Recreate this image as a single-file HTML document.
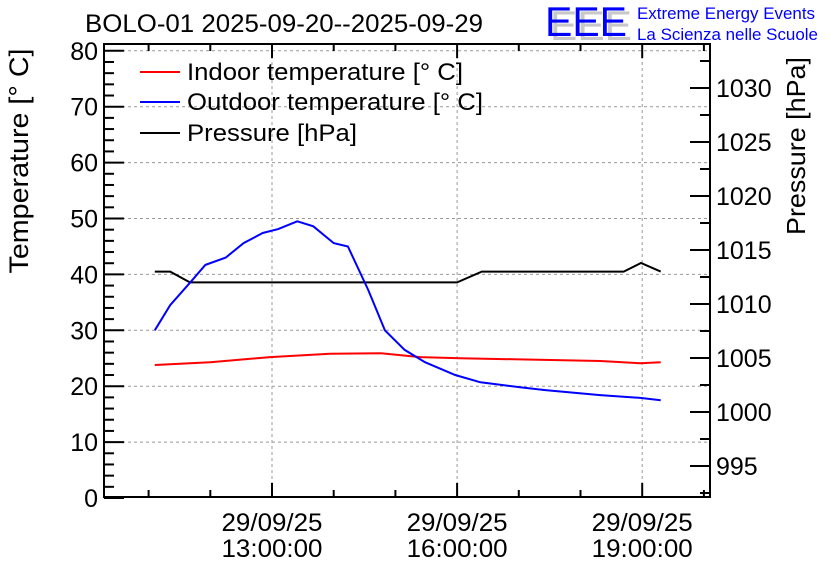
<!DOCTYPE html>
<html><head><meta charset="utf-8"><style>
body{margin:0;background:#fff}
svg{display:block;font-family:"Liberation Sans",sans-serif}
</style></head><body>
<svg id="chart" width="836" height="572" viewBox="0 0 836 572">
<text x="85" y="32" font-size="25" textLength="398" lengthAdjust="spacingAndGlyphs">BOLO-01 2025-09-20--2025-09-29</text>
<g>
<text x="550" y="40" font-size="42" fill="#c8c8c8" textLength="82" lengthAdjust="spacingAndGlyphs">EEE</text>
<text x="545" y="36" font-size="42" fill="#0000ff" textLength="82" lengthAdjust="spacingAndGlyphs">EEE</text>
<text x="637" y="19" font-size="17" fill="#0000ff" textLength="178" lengthAdjust="spacingAndGlyphs">Extreme Energy Events</text>
<text x="637" y="40" font-size="17" fill="#0000ff" textLength="181" lengthAdjust="spacingAndGlyphs">La Scienza nelle Scuole</text>
</g>
<g id="grid"></g>
<rect x="104" y="44" width="606" height="453" fill="none" stroke="#000" stroke-width="2"/>
<g id="axes"></g>
<g id="series"></g>
<text transform="translate(28,161) rotate(-90)" text-anchor="middle" font-size="27" textLength="225" lengthAdjust="spacingAndGlyphs">Temperature [° C]</text>
<text transform="translate(805,146) rotate(-90)" text-anchor="middle" font-size="26" textLength="178" lengthAdjust="spacingAndGlyphs">Pressure [hPa]</text>
<g>
<line x1="140" y1="72" x2="180" y2="72" stroke="#f00" stroke-width="2"/>
<text x="187" y="80" font-size="24" textLength="276" lengthAdjust="spacingAndGlyphs">Indoor temperature [° C]</text>
<line x1="140" y1="102" x2="180" y2="102" stroke="#00f" stroke-width="2"/>
<text x="187" y="110" font-size="24" textLength="296" lengthAdjust="spacingAndGlyphs">Outdoor temperature [° C]</text>
<line x1="140" y1="133" x2="180" y2="133" stroke="#000" stroke-width="2"/>
<text x="187" y="141" font-size="24" textLength="170" lengthAdjust="spacingAndGlyphs">Pressure [hPa]</text>
</g>
</svg>
<script>
const outdoorTimes=[11.1,11.35,11.67,11.92,12.25,12.54,12.85,13.1,13.41,13.67,14.0,14.23,14.56,14.83,15.15,15.48,15.97,16.38,17.02,17.43,18.32,18.97,19.3];
const outdoorTemp=[30,34.5,38.5,41.7,43,45.6,47.4,48.1,49.5,48.6,45.6,45,37.2,30,26.5,24.3,22,20.7,19.8,19.3,18.4,17.9,17.5];
const indoorTimes=[11.1,12.0,12.97,13.94,14.75,15.4,16.05,17.02,18.32,18.97,19.3];
const indoorTemp=[23.8,24.3,25.2,25.8,25.9,25.2,25,24.8,24.5,24.1,24.3];
const pressTimes=[11.1,11.35,11.67,16.0,16.4,18.7,18.98,19.3];
const pressVals=[1013,1013,1012,1012,1013,1013,1013.8,1013];
const xMajor=[13,16,19];
const xMajorLabels=["13:00:00","16:00:00","19:00:00"];
const tempTicks=[0,10,20,30,40,50,60,70,80];
const pressTicks=[995,1000,1005,1010,1015,1020,1025,1030];

const NS="http://www.w3.org/2000/svg";
const X=h=>272+(h-13)*61.7;
const YT=t=>498-t*5.59;
const YP=p=>250+(1015-p)*10.8;
function mk(tag,attrs,parent){const e=document.createElementNS(NS,tag);for(const k in attrs)e.setAttribute(k,attrs[k]);parent.appendChild(e);return e;}
const grid=document.getElementById('grid'),axes=document.getElementById('axes'),series=document.getElementById('series');
xMajor.forEach(h=>{const l=mk('line',{x1:X(h),x2:X(h),y1:44,y2:497,stroke:'#999','stroke-dasharray':'3,3'},grid);

});
tempTicks.forEach(t=>{if(t===0)return;const l=mk('line',{x1:104,x2:710,y1:YT(t),y2:YT(t),stroke:'#999','stroke-dasharray':'3,3'},grid);

});
for(let h=11;h<=20;h++){const x=X(h);if(x<105||x>709)continue;const maj=xMajor.includes(h);const len=maj?14:7;
mk('line',{x1:x,x2:x,y1:497,y2:497-len,stroke:'#000','stroke-width':2},axes);
mk('line',{x1:x,x2:x,y1:44,y2:44+len,stroke:'#000','stroke-width':2},axes);}
xMajor.forEach((h,i)=>{const t1=mk('text',{x:X(h),y:531,'font-size':25,'text-anchor':'middle',textLength:101,lengthAdjust:'spacingAndGlyphs'},axes);t1.textContent='29/09/25';


const t2=mk('text',{x:X(h),y:557,'font-size':25,'text-anchor':'middle',textLength:101,lengthAdjust:'spacingAndGlyphs'},axes);t2.textContent=xMajorLabels[i];

});
for(let t=0;t<=80;t+=2){const maj=t%10===0;mk('line',{x1:104,x2:104+(maj?20:10),y1:YT(t),y2:YT(t),stroke:'#000','stroke-width':2},axes);}
tempTicks.forEach(t=>{const e=mk('text',{x:98,y:YT(t)+9,'font-size':25,'text-anchor':'end'},axes);e.textContent=t;

});
for(let p=992.5;p<=1032.5;p+=2.5){const y=YP(p);if(y<45||y>496)continue;const maj=p%5===0;mk('line',{x1:710,x2:710-(maj?20:10),y1:y,y2:y,stroke:'#000','stroke-width':2},axes);}
pressTicks.forEach(p=>{const e=mk('text',{x:716,y:YP(p)+9,'font-size':25},axes);e.textContent=p;

});
function line(ts,vs,yf,col,name){const pts=ts.map((t,i)=>X(t).toFixed(1)+','+yf(vs[i]).toFixed(1)).join(' ');
const p=mk('polyline',{points:pts,fill:'none',stroke:col,'stroke-width':2},series);

}
line(pressTimes,pressVals,YP,'#000','pressure-line');
line(indoorTimes,indoorTemp,YT,'#f00','indoor-temperature-line');
line(outdoorTimes,outdoorTemp,YT,'#00f','outdoor-temperature-line');
</script>
</body></html>
